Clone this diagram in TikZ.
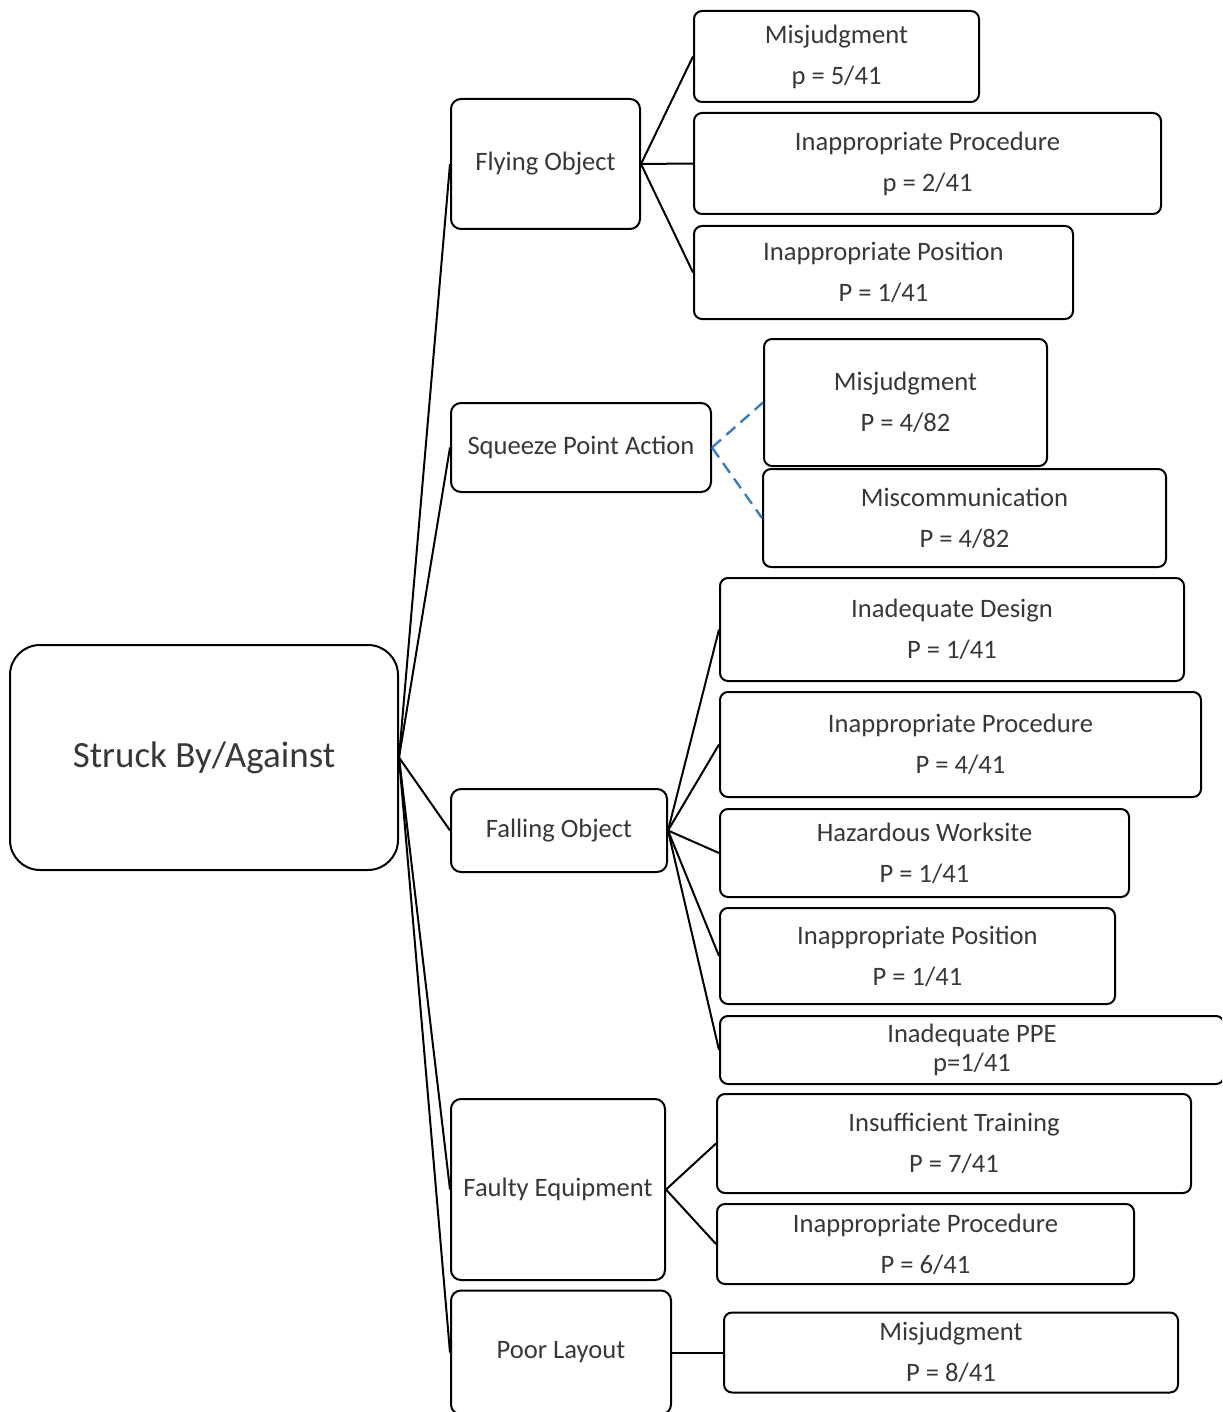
\documentclass[tikz,border=0pt]{standalone}
\usepackage{fontspec}
\setmainfont{Carlito}
\begin{document}
\begin{tikzpicture}[x=0.5pt,y=-0.5pt,
  every node/.style={font=\fontsize{13.3}{20.5}\selectfont, text=txt},
  box/.style={draw=black, line width=1pt, fill=white, rounded corners=4pt, align=center, inner sep=0pt},
  cat/.style={box, rounded corners=5pt},
  sz/.style 2 args={minimum width=#1*0.5pt, minimum height=#2*0.5pt},
  link/.style={line width=1pt, line join=round},
  dlink/.style={line width=1.2pt, draw=dblue, dash pattern=on 6pt off 3.5pt}]
\definecolor{txt}{HTML}{383838}
\definecolor{dblue}{HTML}{3D7DBF}
\useasboundingbox (0,0) rectangle (1222,1412);
\clip (0,0) rectangle (1222,1412);
% root
\node[box, rounded corners=15pt, sz={388}{225}, font=\fontsize{18.5}{22}\selectfont] (root) at (204,757.5) {Struck By/Against};
% categories
\node[cat, sz={189}{130}] (fly) at (545.5,164) {Flying Object};
\node[cat, sz={260}{89}] (sq) at (581,447.5) {Squeeze Point Action};
\node[cat, sz={216}{83}] (fall) at (559,830.5) {Falling Object};
\node[cat, sz={214}{181}] (faulty) at (558,1189.5) {Faulty Equipment};
\node[cat, sz={220}{124}] (poor) at (561,1352.5) {Poor Layout};
% leaves
\node[box, sz={285}{91}] (l1) at (836.5,56.5) {Misjudgment\\p = 5/41};
\node[box, sz={467}{101}] (l2) at (927.5,163.5) {Inappropriate Procedure\\p = 2/41};
\node[box, sz={379}{93}] (l3) at (883.5,272.5) {Inappropriate Position\\P = 1/41};
\node[box, sz={283}{127}] (s1) at (905.5,402.5) {Misjudgment\\P = 4/82};
\node[box, sz={403}{98}] (s2) at (964.5,518) {Miscommunication\\P = 4/82};
\node[box, sz={464}{103}] (f1) at (952,629.5) {Inadequate Design\\P = 1/41};
\node[box, sz={481}{105}] (f2) at (960.5,744.5) {Inappropriate Procedure\\P = 4/41};
\node[box, sz={409}{88}] (f3) at (924.5,853) {Hazardous Worksite\\P = 1/41};
\node[box, sz={395}{96}] (f4) at (917.5,956) {Inappropriate Position\\P = 1/41};
\node[box, sz={504}{68}, font=\fontsize{13.3}{14.5}\selectfont] (f5) at (972,1050) {Inadequate PPE\\p=1/41};
\node[box, sz={474}{99}] (e1) at (954,1143.5) {Insufficient Training\\P = 7/41};
\node[box, sz={417}{80}] (e2) at (925.5,1244) {Inappropriate Procedure\\P = 6/41};
\node[box, sz={454}{80}] (p1) at (951,1352.5) {Misjudgment\\P = 8/41};
% connectors
\foreach \c in {fly,sq,fall,faulty,poor} \draw[link] (root.east) -- (\c.west);
\foreach \c in {l1,l2,l3} \draw[link] (fly.east) -- (\c.west);
\foreach \c in {s1,s2} \draw[dlink] (sq.east) -- (\c.west);
\foreach \c in {f1,f2,f3,f4,f5} \draw[link] (fall.east) -- (\c.west);
\foreach \c in {e1,e2} \draw[link] (faulty.east) -- (\c.west);
\draw[link] (poor.east) -- (p1.west);
\end{tikzpicture}
\end{document}
